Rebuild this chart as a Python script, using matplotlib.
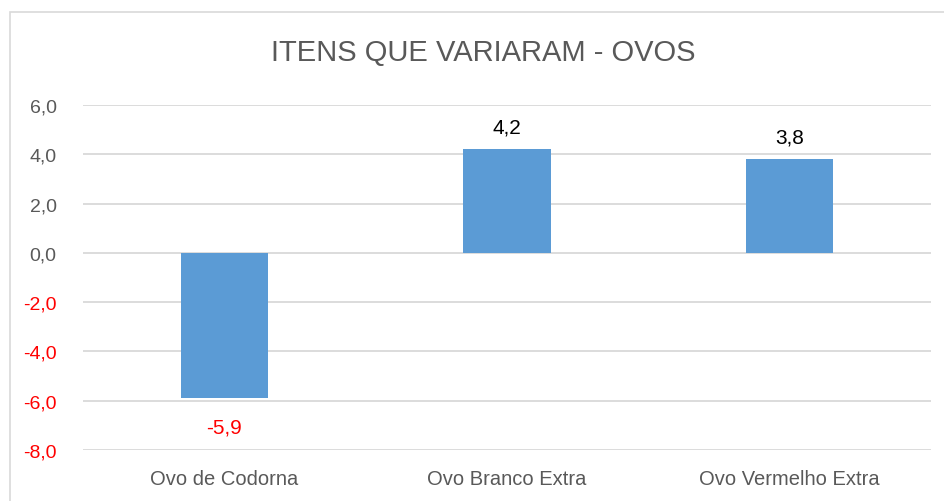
import matplotlib
matplotlib.use("Agg")
import matplotlib.pyplot as plt
import matplotlib.patches as patches
from matplotlib import font_manager

categories = ["Ovo de Codorna", "Ovo Branco Extra", "Ovo Vermelho Extra"]
values = [-5.9, 4.2, 3.8]
yticks = [-8, -6, -4, -2, 0, 2, 4, 6]

names = {f.name for f in font_manager.fontManager.ttflist}
family = "Liberation Sans Narrow" if "Liberation Sans Narrow" in names else "Liberation Sans"
plt.rcParams['font.family'] = [family, 'DejaVu Sans']

TEXT = "#595959"
BAR = "#5B9BD5"
GRID = "#D9D9D9"
RED = "#FF0000"

def fmt(v):
    return f"{v:.1f}".replace(".", ",")

fig = plt.figure(figsize=(9.45, 5.02), dpi=100)
ax = fig.add_axes([83 / 945, 1 - 451 / 502, (931 - 83) / 945, (451 - 106) / 502])

# outer chart border
fig.patches.append(patches.Rectangle((10 / 945, -0.1), 1.2, 1.1 - 13 / 502, transform=fig.transFigure,
                                     fill=False, edgecolor=GRID, linewidth=1.2))

x = range(len(categories))
bars = ax.bar(x, values, width=0.31, color=BAR, zorder=3)
ax.set_xlim(-0.5, len(categories) - 0.5)
ax.set_ylim(-8, 6)
ax.set_yticks(yticks)
ax.set_yticklabels([fmt(v) for v in yticks], fontsize=14)
for lab, v in zip(ax.get_yticklabels(), yticks):
    lab.set_color(RED if v < 0 else TEXT)
ax.set_xticks(list(x))
ax.set_xticklabels(categories, fontsize=14.5, color=TEXT)
ax.tick_params(axis="y", length=0, pad=19)
ax.tick_params(axis="x", length=0, pad=14)
ax.grid(axis="y", color=GRID, linewidth=1.3, zorder=0)
for s in ax.spines.values():
    s.set_visible(False)

for rect, v in zip(bars, values):
    ax.annotate(fmt(v), (rect.get_x() + rect.get_width() / 2, v),
                xytext=(0, 16 if v > 0 else -21), textcoords="offset points",
                ha="center", va="center", fontsize=15,
                color=RED if v < 0 else "#000000")

fig.text(483 / 945, 1 - 53 / 502, "ITENS QUE VARIARAM - OVOS", ha="center", va="center",
         fontsize=21, color=TEXT)

fig.savefig("out.png", dpi=100)
